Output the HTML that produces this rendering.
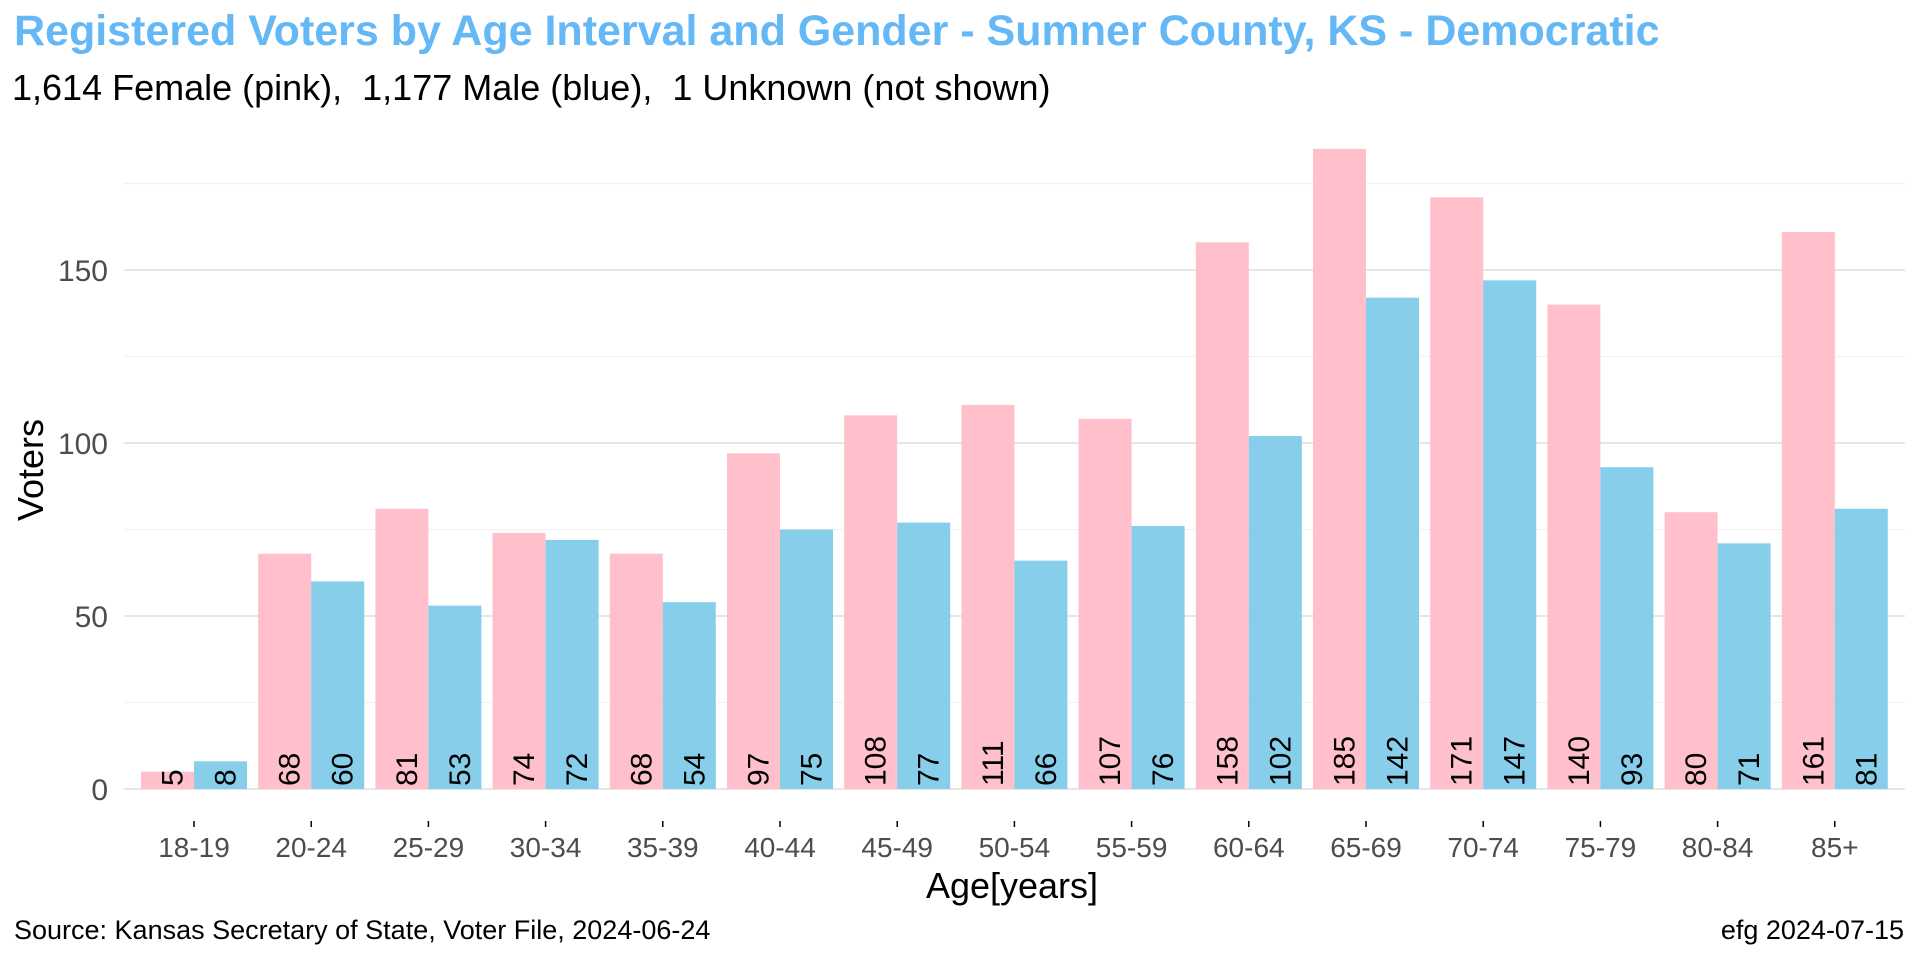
<!DOCTYPE html>
<html><head><meta charset="utf-8"><style>
body{margin:0;background:#fff;}
svg{display:block;font-family:"Liberation Sans",sans-serif;}
text{white-space:pre;}
</style></head><body>
<svg id="chart" width="1920" height="960">
<text x="14" y="45" font-size="43" font-weight="bold" fill="#63b8f5">Registered Voters by Age Interval and Gender - Sumner County, KS - Democratic</text>
<text x="12" y="100" font-size="36" fill="#000">1,614 Female (pink),  1,177 Male (blue),  1 Unknown (not shown)</text>
<g id="grid"></g><g id="bars"></g><g id="labels"></g><g id="axes"></g>
<text x="1012" y="898" font-size="36" text-anchor="middle">Age[years]</text>
<text transform="translate(43,470) rotate(-90)" font-size="36" text-anchor="middle">Voters</text>
<text x="14" y="939" font-size="27">Source: Kansas Secretary of State, Voter File, 2024-06-24</text>
<text x="1904" y="939" font-size="27" text-anchor="end">efg 2024-07-15</text>
</svg>
<script>
const categories=["18-19","20-24","25-29","30-34","35-39","40-44","45-49","50-54","55-59","60-64","65-69","70-74","75-79","80-84","85+"];
const female=[5,68,81,74,68,97,108,111,107,158,185,171,140,80,161];
const male=[8,60,53,72,54,75,77,66,76,102,142,147,93,71,81];
const yTicks=[0,50,100,150];
const yMinor=[25,75,125,175];
const NS="http://www.w3.org/2000/svg";
const x0=194,step=117.2,bw=53,y0=789,pxPer=3.46,L=124,R=1905;
const xS=i=>x0+i*step, yS=v=>y0-v*pxPer;
function mk(tag,attrs,parent){const e=document.createElementNS(NS,tag);for(const k in attrs)e.setAttribute(k,attrs[k]);parent.appendChild(e);return e;}
const g=document.getElementById('grid'),b=document.getElementById('bars'),lb=document.getElementById('labels'),ax=document.getElementById('axes');
yMinor.forEach(v=>{const l=mk('line',{x1:L,x2:R,y1:yS(v),y2:yS(v),stroke:'#f2f2f2','stroke-width':1.2},g);

});
yTicks.forEach(v=>{const l=mk('line',{x1:L,x2:R,y1:yS(v),y2:yS(v),stroke:'#e6e6e6','stroke-width':2},g);


const t=mk('text',{x:108,y:yS(v)+11,'font-size':30,'text-anchor':'end',fill:'#4d4d4d'},ax);t.textContent=v;

});
categories.forEach((c,i)=>{const cx=xS(i);
const l=mk('line',{x1:cx,x2:cx,y1:821,y2:827,stroke:'#000','stroke-width':1.5},ax);


const t=mk('text',{x:cx,y:857,'font-size':28,'text-anchor':'middle',fill:'#4d4d4d'},ax);t.textContent=c;


[[female[i],'#ffc0cb',cx-bw,'female'],[male[i],'#87ceeb',cx,'male']].forEach(([v,col,bx,n])=>{
const r=mk('rect',{x:bx,y:yS(v),width:bw,height:v*pxPer,fill:col},b);


const tx=bx+bw/2+15;
const t2=mk('text',{transform:`translate(${tx},${y0-3}) rotate(-90)`,'font-size':30,fill:'#000'},lb);t2.textContent=v;

});});
</script>
</body></html>
